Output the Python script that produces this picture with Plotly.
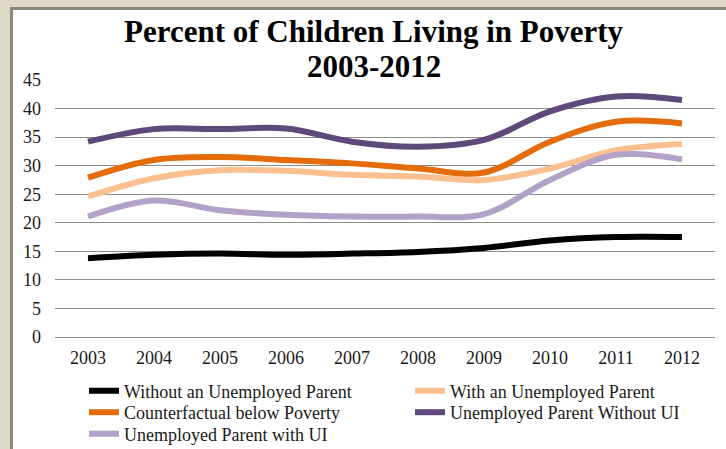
import plotly.graph_objects as go

# ---- data ----
years = ["2003", "2004", "2005", "2006", "2007", "2008", "2009", "2010", "2011", "2012"]
without_unemployed = [13.8, 14.4, 14.6, 14.4, 14.6, 14.9, 15.6, 16.9, 17.5, 17.5]
with_unemployed = [24.6, 27.8, 29.2, 29.1, 28.4, 28.1, 27.5, 29.5, 32.7, 33.8]
counterfactual = [27.9, 31.0, 31.5, 31.0, 30.4, 29.5, 28.8, 34.2, 37.7, 37.4]
unemployed_no_ui = [34.2, 36.4, 36.4, 36.5, 34.2, 33.3, 34.5, 39.5, 42.1, 41.5]
unemployed_with_ui = [21.1, 23.9, 22.2, 21.4, 21.1, 21.1, 21.5, 27.5, 31.9, 31.1]

series = [
    ("Without an Unemployed Parent", without_unemployed, "#000000", "legend"),
    ("With an Unemployed Parent", with_unemployed, "#FAC090", "legend"),
    ("Counterfactual below Poverty", counterfactual, "#E46C0A", "legend2"),
    ("Unemployed Parent Without UI", unemployed_no_ui, "#5F497A", "legend2"),
    ("Unemployed Parent with UI", unemployed_with_ui, "#B3A2C7", "legend3"),
]

title_line1 = "Percent of Children Living in Poverty"
title_line2 = "2003-2012"

W, H = 726, 449
L, R, T, B = 55, 11, 80, 112
PW, PH = W - L - R, H - T - B

FONT = "Liberation Serif"
TXT = "#1a1a1a"

fig = go.Figure()
for name, vals, color, leg in series:
    fig.add_trace(go.Scatter(
        x=years, y=vals, name=name, mode="lines", legend=leg,
        line=dict(color=color, width=6, shape="spline", smoothing=1.0),
    ))


def px_x(p):
    return (p - L) / PW


def px_y(p):
    return (H - B - p) / PH


beige = "#DDD9C6"
grayb = "#8C8979"
shapes = [
    dict(type="rect", xref="paper", yref="paper", x0=px_x(0), x1=px_x(10), y0=px_y(H), y1=px_y(0),
         fillcolor=beige, line_width=0, layer="below"),
    dict(type="rect", xref="paper", yref="paper", x0=px_x(0), x1=px_x(W), y0=px_y(7), y1=px_y(0),
         fillcolor=beige, line_width=0, layer="below"),
    dict(type="rect", xref="paper", yref="paper", x0=px_x(10), x1=px_x(13), y0=px_y(H), y1=px_y(7),
         fillcolor=grayb, line_width=0, layer="below"),
    dict(type="rect", xref="paper", yref="paper", x0=px_x(10), x1=px_x(W), y0=px_y(10), y1=px_y(7),
         fillcolor=grayb, line_width=0, layer="below"),
]


def legend_row(top_px):
    return dict(
        orientation="h", x=px_x(84), xanchor="left", y=px_y(top_px), yanchor="top",
        entrywidth=281, entrywidthmode="pixels", traceorder="normal",
        font=dict(family=FONT, size=18, color=TXT), bgcolor="rgba(0,0,0,0)",
        itemwidth=30, tracegroupgap=0,
    )


title_font = dict(family=FONT, size=31, color="#000000")

fig.update_layout(
    width=W, height=H,
    margin=dict(l=L, r=R, t=T, b=B, pad=0, autoexpand=False),
    paper_bgcolor="white", plot_bgcolor="white",
    font=dict(family=FONT, size=18, color=TXT),
    annotations=[
        dict(text="<b>" + title_line1 + "</b>", xref="paper", yref="paper",
             x=px_x(374), xanchor="center", y=px_y(31), yanchor="middle",
             showarrow=False, font=title_font),
        dict(text="<b>" + title_line2 + "</b>", xref="paper", yref="paper",
             x=px_x(374), xanchor="center", y=px_y(66), yanchor="middle",
             showarrow=False, font=title_font),
    ],
    xaxis=dict(
        type="category", range=[-0.5, 9.5], showgrid=False, showline=False, zeroline=False,
        ticks="", ticklabelstandoff=8, tickfont=dict(size=18),
    ),
    yaxis=dict(
        range=[0, 45], dtick=5, showgrid=True, gridcolor="#8C8C8C", gridwidth=1,
        zeroline=True, zerolinecolor="#8C8C8C", zerolinewidth=1,
        showline=False, ticks="", ticklabelstandoff=13, tickfont=dict(size=18),
    ),
    legend=legend_row(372.5),
    legend2=legend_row(394),
    legend3=legend_row(415.5),
    shapes=shapes,
    showlegend=True,
)

fig.write_html("out.html")
